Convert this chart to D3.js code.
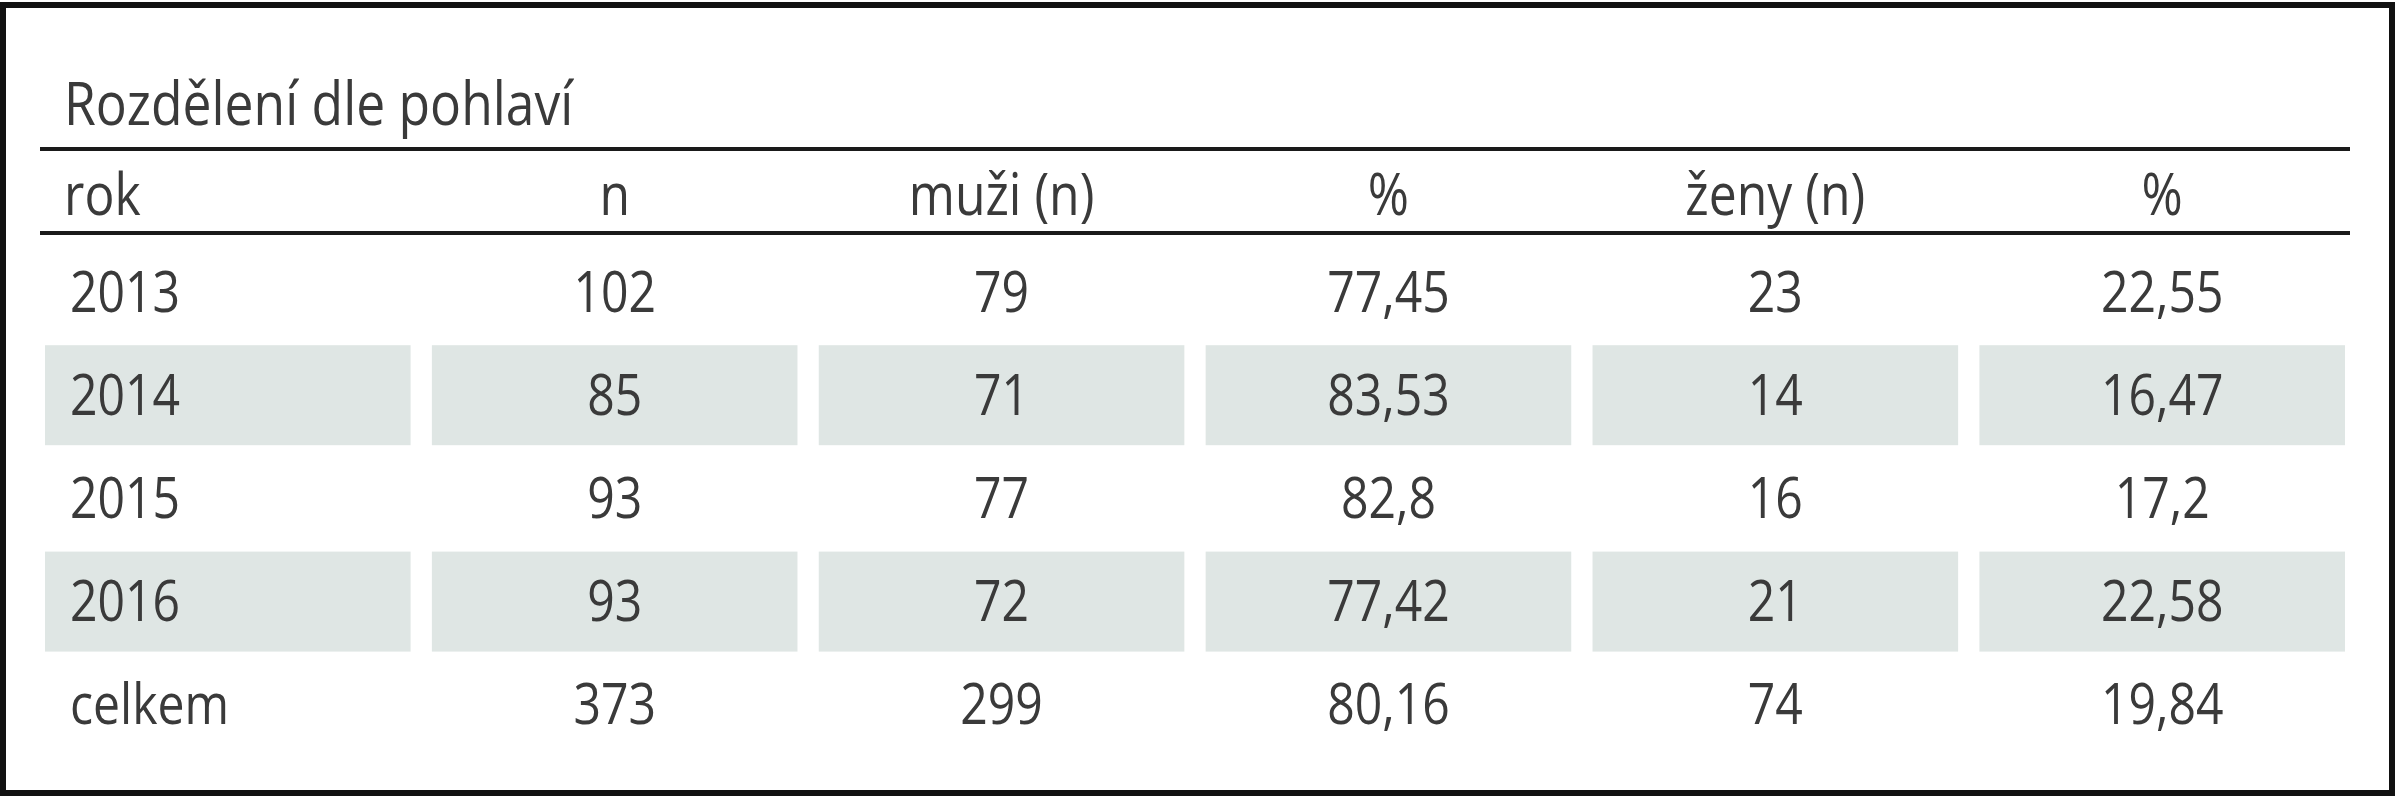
<!DOCTYPE html>
<html>
<head>
<meta charset="utf-8">
<script src="https://cdn.jsdelivr.net/npm/d3@7"></script>
<style>
  body { margin: 0; background: #fff; }
  text { font-family: "Liberation Sans Narrow", "Open Sans", sans-serif; fill: #3a3a3a; }
</style>
</head>
<body>
<svg id="tbl"></svg>
<script>
var title = "Rozdělení dle pohlaví";
var headers = ["rok", "n", "muži (n)", "%", "ženy (n)", "%"];
var years = ["2013", "2014", "2015", "2016", "celkem"];
var totals = ["102", "85", "93", "93", "373"];
var men = ["79", "71", "77", "72", "299"];
var menPct = ["77,45", "83,53", "82,8", "77,42", "80,16"];
var women = ["23", "14", "16", "21", "74"];
var womenPct = ["22,55", "16,47", "17,2", "22,58", "19,84"];

var width = 2395, height = 800;
var squeeze = 0.86;
var columns = [years, totals, men, menPct, women, womenPct];

var svg = d3.select("#tbl").attr("width", width).attr("height", height);

svg.append("rect")
    .attr("x", 3).attr("y", 5)
    .attr("width", width - 6).attr("height", height - 12)
    .attr("fill", "none").attr("stroke", "#111").attr("stroke-width", 6);

var x = d3.scaleBand()
    .domain(d3.range(headers.length))
    .range([45, 2345])
    .paddingInner(0.055);

var y = d3.scaleBand()
    .domain(d3.range(years.length))
    .range([240, 756])
    .paddingInner(0);

// condensed-looking text: squeeze horizontally around its anchor
function put(sel, tx, ty) {
    return sel.attr("transform", "translate(" + [tx, ty] + ") scale(" + squeeze + ",1)");
}

put(svg.append("text"), 64, 125)
    .attr("font-size", 60)
    .text(title);

[149, 233].forEach(function(ly) {
    svg.append("line")
        .attr("x1", 40).attr("x2", 2350)
        .attr("y1", ly).attr("y2", ly)
        .attr("stroke", "#1a1a1a").attr("stroke-width", 4);
});

// shaded rows
var shaded = [1, 3];
shaded.forEach(function(r) {
    svg.selectAll(null)
        .data(d3.range(headers.length))
        .enter()
        .append("rect")
            .attr("x", function(c) { return x(c); })
            .attr("y", y(r) + 2)
            .attr("width", x.bandwidth())
            .attr("height", 100)
            .attr("fill", "#dfe6e4");
});

function colX(c) {
    return c === 0 ? 70 : x(c) + x.bandwidth() / 2;
}

headers.forEach(function(h, i) {
    put(svg.append("text"), i === 0 ? 64 : colX(i), 215)
        .attr("font-size", 58)
        .attr("text-anchor", i === 0 ? "start" : "middle")
        .text(h);
});

columns.forEach(function(col, c) {
    col.forEach(function(d, r) {
        put(svg.append("text"), colX(c), y(r) + y.bandwidth() / 2 + 20)
            .attr("font-size", 56)
            .attr("text-anchor", c === 0 ? "start" : "middle")
            .text(d);
    });
});
</script>
</body>
</html>
